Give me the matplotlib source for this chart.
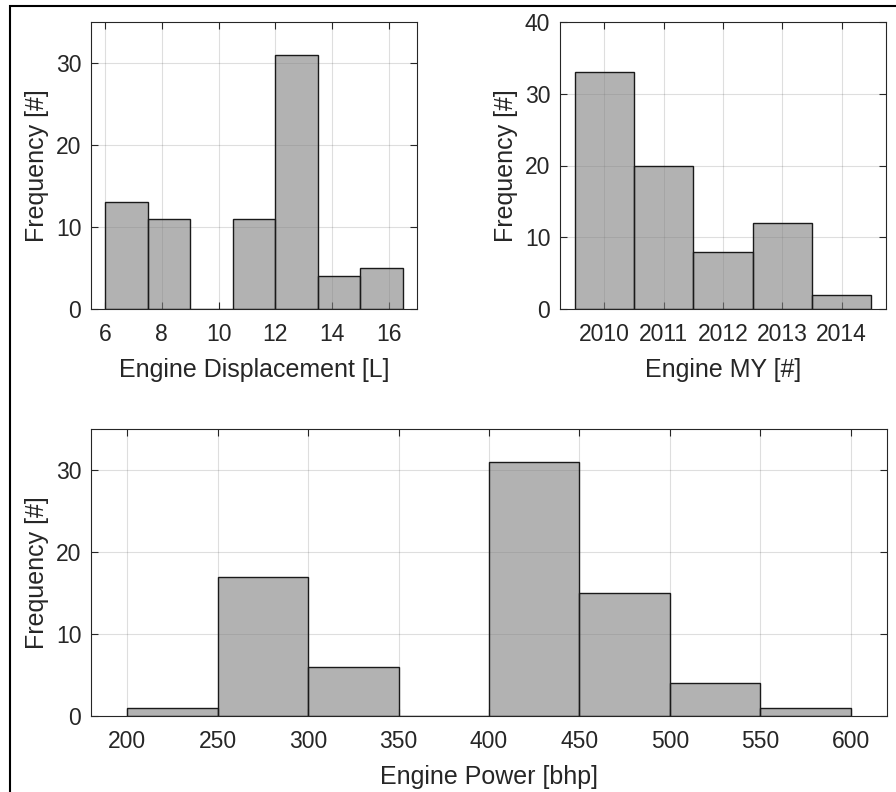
import numpy as np
import matplotlib
matplotlib.use("Agg")
import matplotlib.pyplot as plt
from matplotlib.patches import Rectangle

plt.rcParams['font.family'] = ['Liberation Sans', 'DejaVu Sans']

# histogram data: bin edges and counts
disp_edges = [6, 7.5, 9, 10.5, 12, 13.5, 15, 16.5]
disp_counts = [13, 11, 0, 11, 31, 4, 5]

my_edges = [2009.5, 2010.5, 2011.5, 2012.5, 2013.5, 2014.5]
my_counts = [33, 20, 8, 12, 2]
my_ticks = [2010, 2011, 2012, 2013, 2014]

power_edges = [200, 250, 300, 350, 400, 450, 500, 550, 600]
power_counts = [1, 17, 6, 0, 31, 15, 4, 1]

W, H = 896, 792
fig = plt.figure(figsize=(W / 100, H / 100), dpi=100)

def add_axes_px(x0, y0, x1, y1):
    return fig.add_axes([x0 / W, 1 - y1 / H, (x1 - x0) / W, (y1 - y0) / H])

def draw_hist(ax, edges, counts, xlim, ylim, yticks, xticks, xlabel):
    edges = np.asarray(edges, dtype=float)
    widths = np.diff(edges)
    ax.set_axisbelow(True)
    ax.grid(True, color='#262626', alpha=0.15, linewidth=0.8)
    ax.bar(edges[:-1], counts, width=widths, align='edge',
           facecolor=(0.5, 0.5, 0.5, 0.6), edgecolor='#1a1a1a', linewidth=1.0)
    ax.set_xlim(*xlim)
    ax.set_ylim(*ylim)
    ax.set_yticks(yticks)
    ax.set_xticks(xticks)
    ax.tick_params(direction='in', top=True, right=True, labelsize=16.5,
                   colors='#262626', length=5, width=0.8, pad=7)
    ax.tick_params(axis='x', pad=10)
    for s in ax.spines.values():
        s.set_color('#262626')
        s.set_linewidth(0.8)
    ax.set_xlabel(xlabel, fontsize=18, color='#262626', labelpad=9)
    ax.set_ylabel('Frequency [#]', fontsize=18, color='#262626', labelpad=5)

ax1 = add_axes_px(91, 22, 417, 309)
draw_hist(ax1, disp_edges, disp_counts, (5.5, 17), (0, 35), [0, 10, 20, 30],
          [6, 8, 10, 12, 14, 16], 'Engine Displacement [L]')

ax2 = add_axes_px(560, 22, 886, 309)
draw_hist(ax2, my_edges, my_counts, (2009.25, 2014.75), (0, 40),
          [0, 10, 20, 30, 40], my_ticks, 'Engine MY [#]')
ax2.set_xticklabels([str(t) for t in my_ticks])

ax3 = add_axes_px(91, 429, 887, 716)
draw_hist(ax3, power_edges, power_counts, (180, 620), (0, 35), [0, 10, 20, 30],
          list(range(200, 601, 50)), 'Engine Power [bhp]')

# outer frame around the figure
fig.patches.append(Rectangle((10 / W, -0.1), 2, 1 - 6 / H + 0.1,
                             transform=fig.transFigure, fill=False,
                             edgecolor='black', linewidth=1.5))

fig.savefig('out.png', dpi=100)
